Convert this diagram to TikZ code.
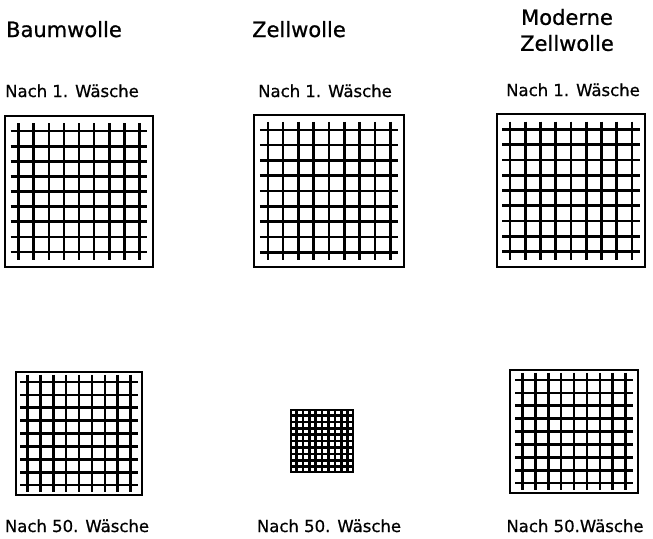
\documentclass[tikz,border=0pt]{standalone}
\usepackage{fontspec}
\setmainfont{DejaVu Sans}[FakeBold=0.8]
\usetikzlibrary{positioning,calc}

\begin{document}
\begin{tikzpicture}[x=1pt, y=-1pt,
    title/.style={font=\fontsize{21}{26}\selectfont, align=center, inner sep=0pt},
    caption/.style={font=\fontsize{16.5}{20}\selectfont, anchor=base, inner sep=0pt},
    frame/.style={draw, line width=1.2pt, inner sep=0pt},
    thread/.style={line width=2.6pt}]
    \useasboundingbox (0,0) rectangle (653,538);
    % column heads
    \node[title, anchor=base] (tbaum) at (64,37) {Baumwolle};
    \node[title, anchor=base] (tzell) at (299,37) {Zellwolle};
    \node[title] (tmod) at (567,30) {Moderne\\Zellwolle};
    % captions
    \node[caption] (cbaum) at (72,97) {Nach 1. Wäsche};
    \node[caption] (czell) at (325,97) {Nach 1. Wäsche};
    \node[caption] (cmod) at (573,96) {Nach 1. Wäsche};
    \node[caption] (dbaum) at (77,532) {Nach 50. Wäsche};
    \node[caption] (dzell) at (329,532) {Nach 50. Wäsche};
    \node[caption] (dmod) at (575,532) {Nach 50.Wäsche};
    % fabric samples: name/x/y/width/height/step/overhang
    \foreach \nm/\cx/\cy/\w/\h/\s/\o in {gbaum/79/191.5/148/151/15.1/8,
        gzell/329/191/150/152/15.3/8, gmod/571/190.5/148/153/15.25/8,
        hbaum/79/433.5/126/123/12.9/7, hzell/322/441/62/62/6.4/4,
        hmod/574/431.5/128/123/12.9/7} {
      \node[frame, minimum width=\w pt, minimum height=\h pt] (\nm) at (\cx,\cy) {};
      \foreach \k in {-4,-3,-2,-1,0,1,2,3,4} {
        \draw[thread] ($(\nm.center)+({\k*\s},{-4*\s-\o})$) -- ($(\nm.center)+({\k*\s},{4*\s+\o})$);
        \draw[thread] ($(\nm.center)+({-4*\s-\o},{\k*\s})$) -- ($(\nm.center)+({4*\s+\o},{\k*\s})$);
      }
    }
\end{tikzpicture}
\end{document}
